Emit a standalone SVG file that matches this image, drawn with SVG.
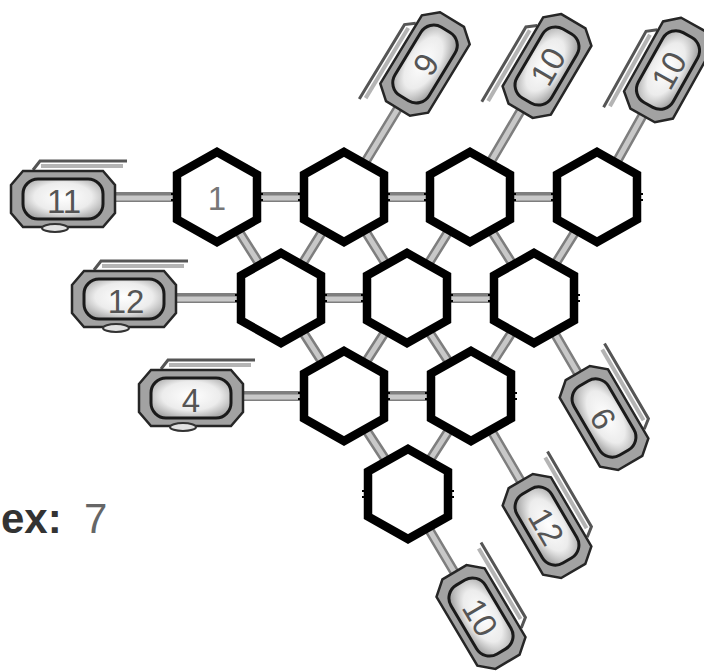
<svg xmlns="http://www.w3.org/2000/svg" xmlns:xlink="http://www.w3.org/1999/xlink" width="704" height="671" viewBox="0 0 704 671">
<style>
.road{stroke:#7e7e7e;stroke-width:10;fill:none}
.road-in{stroke:#c8c8c8;stroke-width:5;fill:none}
.hex{fill:#ffffff;stroke:#000;stroke-width:8.5;stroke-linejoin:miter}
.tick{stroke:#000;stroke-width:2}
.lbl{font-family:"Liberation Sans",Arial,sans-serif;font-size:33px;fill:#555;text-anchor:middle;dominant-baseline:central}
</style>
<defs>
<radialGradient id="podg" cx="0.5" cy="0.45" r="0.6">
<stop offset="0" stop-color="#ffffff"/>
<stop offset="0.6" stop-color="#ececec"/>
<stop offset="1" stop-color="#a8a8a8"/>
</radialGradient>
<polygon id="hexshape" class="hex" points="0,-45 40,-22.5 40,22.5 0,45 -40,22.5 -40,-22.5"/>
<g id="ticks">
<line class="tick" x1="-46" y1="-3" x2="-36" y2="-3"/>
<line class="tick" x1="-46" y1="3" x2="-36" y2="3"/>
<line class="tick" x1="36" y1="-3" x2="46" y2="-3"/>
<line class="tick" x1="36" y1="3" x2="46" y2="3"/>
</g>
<g id="pod">
<path d="M-30,-29 L-23,-38 L64,-38" fill="none" stroke="#555" stroke-width="3"/>
<path d="M-22,-33 L60,-33" fill="none" stroke="#b4b4b4" stroke-width="4"/>
<polygon points="-52,-14 -40,-28 40,-28 52,-14 52,14 40,28 -40,28 -52,14" fill="#a2a2a2" stroke="#262626" stroke-width="2.5"/>
<rect x="-40" y="-20" width="80" height="40" rx="15" fill="url(#podg)" stroke="#1a1a1a" stroke-width="3"/>
</g>
<ellipse id="tab" cx="-8" cy="29" rx="13" ry="4" fill="#e2e2e2" stroke="#333" stroke-width="2"/>
</defs>

<g id="connectors">
<g class="road">
<path d="M217,197 H597 M281,298 H534 M344,396 H471"/>
<path d="M281,298 L217,197 M281,298 L344,197 M407,298 L344,197 M407,298 L470,197 M534,298 L470,197 M534,298 L597,197"/>
<path d="M344,396 L281,298 M344,396 L407,298 M471,396 L407,298 M471,396 L534,298 M408,494 L344,396 M408,494 L471,396"/>
<path d="M63,197 H217 M124,298 H281 M191,396 H344"/>
<path d="M344,197 L425,64 M470,197 L547,66 M597,197 L668,70"/>
<path d="M534,298 L604,418 M471,396 L547,526 M408,494 L481,617"/>
</g>
<g class="road-in">
<path d="M217,198 H597 M281,299 H534 M344,397 H471"/>
<path d="M281,298 L217,197 M281,298 L344,197 M407,298 L344,197 M407,298 L470,197 M534,298 L470,197 M534,298 L597,197"/>
<path d="M344,396 L281,298 M344,396 L407,298 M471,396 L407,298 M471,396 L534,298 M408,494 L344,396 M408,494 L471,396"/>
<path d="M63,198 H217 M124,299 H281 M191,397 H344"/>
<path d="M344,197 L425,64 M470,197 L547,66 M597,197 L668,70"/>
<path d="M534,298 L604,418 M471,396 L547,526 M408,494 L481,617"/>
</g>
</g>

<g id="hex-r1-1" transform="translate(217,197)"><use xlink:href="#hexshape"/><use xlink:href="#ticks"/><text class="lbl" x="0" y="1" style="fill:#777">1</text></g>
<g id="hex-r1-2" transform="translate(344,197)"><use xlink:href="#hexshape"/><use xlink:href="#ticks"/></g>
<g id="hex-r1-3" transform="translate(470,197)"><use xlink:href="#hexshape"/><use xlink:href="#ticks"/></g>
<g id="hex-r1-4" transform="translate(597,197)"><use xlink:href="#hexshape"/><use xlink:href="#ticks"/></g>
<g id="hex-r2-1" transform="translate(281,298)"><use xlink:href="#hexshape"/><use xlink:href="#ticks"/></g>
<g id="hex-r2-2" transform="translate(407,298)"><use xlink:href="#hexshape"/><use xlink:href="#ticks"/></g>
<g id="hex-r2-3" transform="translate(534,298)"><use xlink:href="#hexshape"/><use xlink:href="#ticks"/></g>
<g id="hex-r3-1" transform="translate(344,396)"><use xlink:href="#hexshape"/><use xlink:href="#ticks"/></g>
<g id="hex-r3-2" transform="translate(471,396)"><use xlink:href="#hexshape"/><use xlink:href="#ticks"/></g>
<g id="hex-r4-1" transform="translate(408,494)"><use xlink:href="#hexshape"/><use xlink:href="#ticks"/></g>

<g id="pod-11" transform="translate(63,199)"><use xlink:href="#pod"/><use xlink:href="#tab"/><text class="lbl" x="1" y="2">11</text></g>
<g id="pod-12-left" transform="translate(124,299)"><use xlink:href="#pod"/><use xlink:href="#tab"/><text class="lbl" x="2" y="2">12</text></g>
<g id="pod-4" transform="translate(191,398)"><use xlink:href="#pod"/><use xlink:href="#tab"/><text class="lbl" x="0" y="2">4</text></g>

<g id="pod-9" transform="translate(425,64) rotate(-58.7)"><use xlink:href="#pod" transform="scale(-1,1)"/><text class="lbl" x="0" y="1">9</text></g>
<g id="pod-10-a" transform="translate(547,66) rotate(-59.5)"><use xlink:href="#pod" transform="scale(-1,1)"/><text class="lbl" x="0" y="1">10</text></g>
<g id="pod-10-b" transform="translate(668,70) rotate(-60.8)"><use xlink:href="#pod" transform="scale(-1,1)"/><text class="lbl" x="0" y="1">10</text></g>

<g id="pod-6" transform="translate(604,418) rotate(59.7)"><use xlink:href="#pod" transform="scale(-1,1)"/><text class="lbl" x="0" y="1">6</text></g>
<g id="pod-12-right" transform="translate(547,526) rotate(59.7)"><use xlink:href="#pod" transform="scale(-1,1)"/><text class="lbl" x="0" y="1">12</text></g>
<g id="pod-10-c" transform="translate(481,617) rotate(59.3)"><use xlink:href="#pod" transform="scale(-1,1)"/><text class="lbl" x="0" y="1">10</text></g>

<g id="index-label" font-family="'Liberation Sans',Arial,sans-serif" font-size="42">
<text x="1" y="533" fill="#333" font-weight="bold">ex:</text>
<text x="84" y="533" fill="#666">7</text>
</g>
</svg>
